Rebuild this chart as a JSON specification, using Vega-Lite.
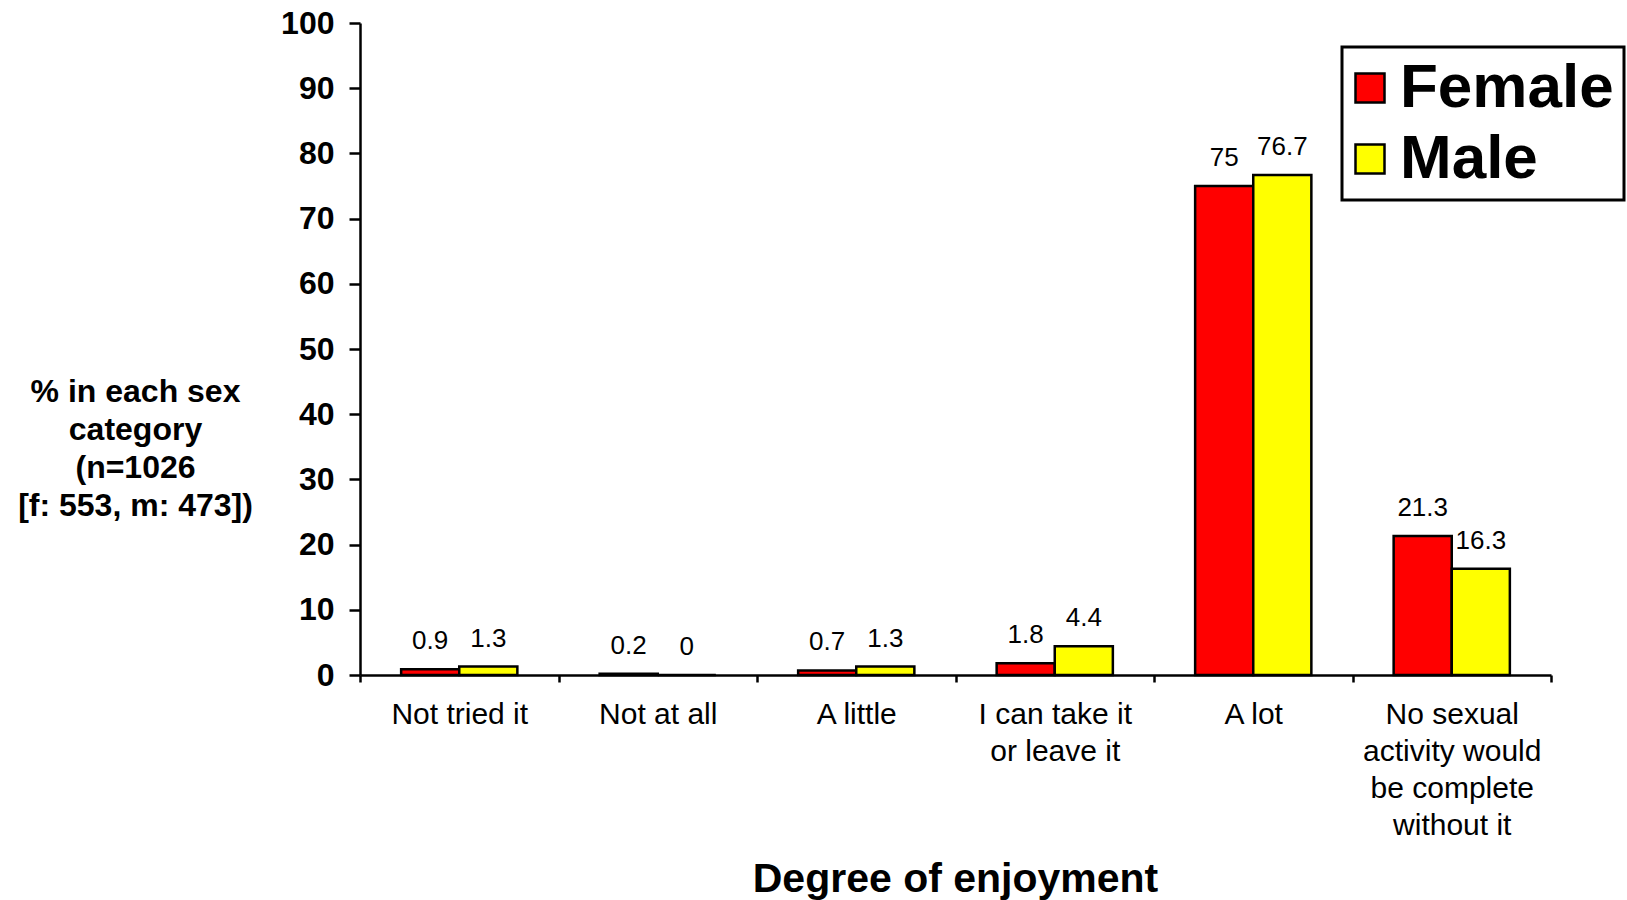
{
  "$schema": "https://vega.github.io/schema/vega-lite/v6.json",
  "autosize": {"type": "none"},
  "width": 1191,
  "height": 652,
  "padding": {"left": 360, "top": 23, "right": 76, "bottom": 225},
  "background": "white",
  "data": {
    "values": [
      {"cat": "Not tried it", "sex": "Female", "pct": 0.9},
      {"cat": "Not tried it", "sex": "Male", "pct": 1.3},
      {"cat": "Not at all", "sex": "Female", "pct": 0.2},
      {"cat": "Not at all", "sex": "Male", "pct": 0},
      {"cat": "A little", "sex": "Female", "pct": 0.7},
      {"cat": "A little", "sex": "Male", "pct": 1.3},
      {"cat": "I can take it\nor leave it", "sex": "Female", "pct": 1.8},
      {"cat": "I can take it\nor leave it", "sex": "Male", "pct": 4.4},
      {"cat": "A lot", "sex": "Female", "pct": 75},
      {"cat": "A lot", "sex": "Male", "pct": 76.7},
      {"cat": "No sexual\nactivity would\nbe complete\nwithout it", "sex": "Female", "pct": 21.3},
      {"cat": "No sexual\nactivity would\nbe complete\nwithout it", "sex": "Male", "pct": 16.3}
    ]
  },
  "encoding": {
    "x": {
      "field": "cat",
      "type": "nominal",
      "sort": null,
      "scale": {"paddingInner": 0, "paddingOuter": 0},
      "axis": {
        "title": "Degree of enjoyment",
        "titleFont": "Liberation Sans",
        "titleFontSize": 41,
        "titleFontWeight": "bold",
        "titleColor": "black",
        "titleBaseline": "alphabetic",
        "titleY": 216,
        "titleX": 595,
        "labelAngle": 0,
        "labelExpr": "datum.value ? split(datum.value, '\\n') : ''",
        "labelFont": "Liberation Sans",
        "labelFontSize": 30,
        "labelLineHeight": 37,
        "labelColor": "black",
        "labelPadding": 17,
        "labelBaseline": "top",
        "tickBand": "extent",
        "tickSize": 7,
        "tickWidth": 2.5,
        "tickColor": "black",
        "domainColor": "black",
        "domainWidth": 2.5,
        "grid": false
      }
    },
    "xOffset": {
      "field": "sex",
      "type": "nominal",
      "sort": ["Female", "Male"],
      "scale": {"paddingInner": 0, "paddingOuter": 0.708}
    },
    "y": {
      "field": "pct",
      "type": "quantitative",
      "scale": {"domain": [0, 100], "nice": false, "zero": true},
      "axis": {
        "values": [0, 10, 20, 30, 40, 50, 60, 70, 80, 90, 100],
        "title": ["% in each sex", "category", "(n=1026", "[f: 553, m: 473])"],
        "titleAngle": 0,
        "titleFont": "Liberation Sans",
        "titleFontSize": 32,
        "titleFontWeight": "bold",
        "titleColor": "black",
        "titleAlign": "center",
        "titleBaseline": "middle",
        "titleLineHeight": 38,
        "titleX": -225,
        "titleY": 368,
        "labelFont": "Liberation Sans",
        "labelFontSize": 32,
        "labelFontWeight": "bold",
        "labelColor": "black",
        "labelPadding": 15,
        "tickSize": 11,
        "tickWidth": 2.5,
        "tickColor": "black",
        "domainColor": "black",
        "domainWidth": 2.5,
        "grid": false
      }
    }
  },
  "layer": [
    {
      "mark": {"type": "bar", "stroke": "black", "strokeWidth": 2.5},
      "encoding": {
        "color": {
          "field": "sex",
          "type": "nominal",
          "sort": ["Female", "Male"],
          "scale": {"domain": ["Female", "Male"], "range": ["#FF0000", "#FFFF00"]},
          "legend": {
            "title": null,
            "orient": "none",
            "legendX": 982,
            "legendY": 24,
            "fillColor": "white",
            "strokeColor": "black",
            "padding": 10,
            "rowPadding": 9,
            "symbolType": "square",
            "symbolSize": 841,
            "symbolOffset": -13,
            "symbolStrokeColor": "black",
            "symbolStrokeWidth": 2.5,
            "symbolOpacity": 1,
            "labelFont": "Liberation Sans",
            "labelFontSize": 62,
            "labelFontWeight": "bold",
            "labelColor": "black",
            "labelOffset": -1,
            "labelLimit": 400,
            "encode": {"legend": {"update": {"strokeWidth": {"value": 3}}}}
          }
        }
      }
    },
    {
      "mark": {"type": "text", "font": "Liberation Sans", "fontSize": 26, "color": "black", "baseline": "alphabetic", "align": "center", "dy": -20},
      "encoding": {
        "text": {"field": "pct", "type": "quantitative"}
      }
    }
  ],
  "config": {
    "view": {"stroke": null}
  }
}
